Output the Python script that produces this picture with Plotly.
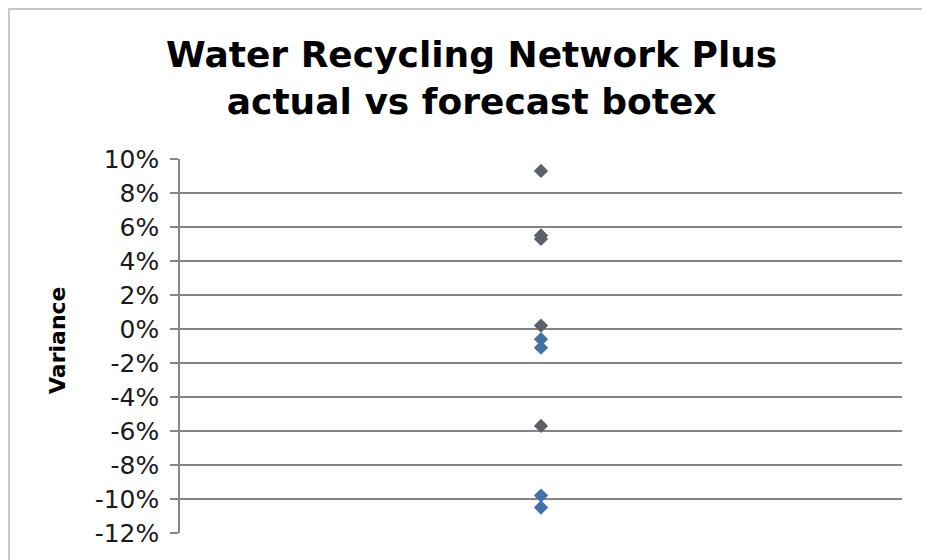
import plotly.graph_objects as go

# Data (variance, fraction)
series_gray = [0.093, 0.055, 0.053, 0.002, -0.057]
series_blue = [-0.006, -0.011, -0.098, -0.105]
ytick_vals = [0.10, 0.08, 0.06, 0.04, 0.02, 0.0, -0.02, -0.04, -0.06, -0.08, -0.10, -0.12]
ytick_text = ["10%", "8%", "6%", "4%", "2%", "0%", "-2%", "-4%", "-6%", "-8%", "-10%", "-12%"]

W, H = 922, 552
L, R, T, B = 172, 28, 151, 27
PW, PH = W - L - R, H - T - B

fig = go.Figure()
fig.add_trace(go.Scatter(
    x=[1] * len(series_gray), y=series_gray, mode="markers",
    marker=dict(symbol="diamond", size=11, color="#5c6168"),
    showlegend=False, cliponaxis=False,
))
fig.add_trace(go.Scatter(
    x=[1] * len(series_blue), y=series_blue, mode="markers",
    marker=dict(symbol="diamond", size=11, color="#4470aa"),
    showlegend=False, cliponaxis=False,
))

FONT = "DejaVu Sans, Verdana, sans-serif"

fig.update_layout(
    width=W, height=H,
    margin=dict(l=L, r=R, t=T, b=B, autoexpand=False),
    paper_bgcolor="white", plot_bgcolor="white",
    font=dict(family=FONT, color="#000000"),
    xaxis=dict(
        range=[0, 2], showticklabels=False, showgrid=False, zeroline=False,
        showline=False, ticks="", automargin=False,
    ),
    yaxis=dict(
        range=[-0.12, 0.10], tickvals=ytick_vals, ticktext=ytick_text,
        tickfont=dict(size=25, color="#1a1a1a"),
        showgrid=True, gridcolor="#858585", gridwidth=1.5,
        zeroline=False, showline=True, linecolor="#858585", linewidth=1.5,
        ticks="outside", ticklen=8, tickcolor="#858585", tickwidth=1.5,
        ticklabelstandoff=6,
        automargin=False,
    ),
    annotations=[
        dict(
            text="<b>Water Recycling Network Plus<br>actual vs forecast botex</b>",
            xref="paper", yref="paper",
            x=(463 - L) / PW, y=1 + (T - 24) / PH,
            xanchor="center", yanchor="top", showarrow=False,
            font=dict(size=36, family=FONT, color="#000000"),
        ),
        dict(
            text="<b>Variance</b>", textangle=-90,
            xref="paper", yref="paper",
            x=(49 - L) / PW, y=(H - B - 332) / PH,
            xanchor="center", yanchor="middle", showarrow=False,
            font=dict(size=22, family=FONT, color="#000000"),
        ),
    ],
    shapes=[dict(
        type="rect", xref="paper", yref="paper",
        x0=-(L - 1) / PW, x1=1 + (R - 4) / PW, y0=-(B + 2) / PH, y1=1 + (T - 1) / PH,
        line=dict(color="#c8c8c8", width=2), fillcolor="rgba(0,0,0,0)", layer="below",
    )],
)

fig.write_html("out.html")
